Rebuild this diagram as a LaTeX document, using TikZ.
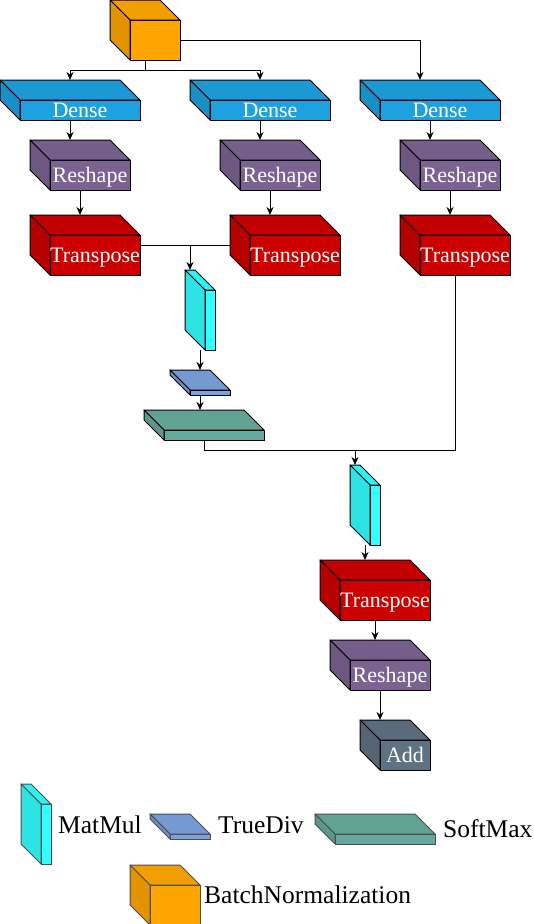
\documentclass[tikz,border=0pt]{standalone}
\usepackage{fontspec}
\setmainfont{Liberation Serif}
\usepackage{tikz}
\usetikzlibrary{arrows.meta, calc}
\usepackage{xcolor}

\definecolor{bnorange}{HTML}{FFA500}
\definecolor{denseblue}{HTML}{1DA1DF}
\definecolor{reshapepurple}{HTML}{7A6391}
\definecolor{transred}{HTML}{CC0000}
\definecolor{matcyan}{HTML}{33FFFF}
\definecolor{divblue}{HTML}{7BA2DC}
\definecolor{softgreen}{HTML}{66AA9D}
\definecolor{addgrey}{HTML}{5F7282}

% name, x, y of front top-left (px, y down), width, height, colour, text
\newcommand{\layerbox}[7]{%
  \node[front, fill=#6, minimum width=#4pt, minimum height=#5pt] (#1) at (#2,-#3) {};
  \filldraw[edge, fill=#6!95!black] (#1.north west) -- ++(-20,20) -- ++(#4,0) -- (#1.north east) -- cycle;
  \filldraw[edge, fill=#6!89!black] (#1.north west) -- ++(-20,20) -- ++(0,-#5) -- (#1.south west) -- cycle;
  \node[boxtext] (#1-txt) at (#1.center) {#7};
  \coordinate (#1-top) at ($(#1.north)+(-20,20)$);
  \coordinate (#1-bot) at ($(#1.south)+(-10,0)$);
}

\begin{document}
\begin{tikzpicture}[
  x=1pt, y=1pt,
  >={Stealth[length=8pt,width=7pt]},
  front/.style={draw=black, line width=1pt, anchor=north west, outer sep=0pt, inner sep=0pt},
  edge/.style={draw=black, line width=1pt, line join=round},
  boxtext/.style={text=white, font=\fontsize{22}{24}\selectfont, inner sep=0pt,
    text height=14pt, text depth=0pt},
  legendtext/.style={anchor=west, font=\fontsize{25.5}{28}\selectfont, inner sep=0pt},
  link/.style={line width=1pt},
  arrow/.style={link, ->}
]
\useasboundingbox (0,0) rectangle (534,-924);

% Input
\layerbox{bn}{130}{20}{50}{40}{bnorange}{}

% Three branches
\layerbox{d1}{20}{100}{120}{20}{denseblue}{Dense}
\layerbox{d2}{210}{100}{120}{20}{denseblue}{Dense}
\layerbox{d3}{380}{100}{120}{20}{denseblue}{Dense}
\layerbox{r1}{50}{160}{80}{30}{reshapepurple}{Reshape}
\layerbox{r2}{240}{160}{80}{30}{reshapepurple}{Reshape}
\layerbox{r3}{420}{160}{80}{30}{reshapepurple}{Reshape}
\layerbox{t1}{50}{235}{90}{40}{transred}{Transpose}
\layerbox{t2}{250}{235}{90}{40}{transred}{Transpose}
\layerbox{t3}{420}{235}{90}{40}{transred}{Transpose}

% Attention scores
\layerbox{mm1}{205}{290}{10}{60}{matcyan}{}
\layerbox{td1}{190}{390}{40}{5}{divblue}{}
\layerbox{sm1}{164}{430}{100}{10}{softgreen}{}

% Output
\layerbox{mm2}{370}{485}{10}{60}{matcyan}{}
\layerbox{t4}{340}{580}{90}{40}{transred}{Transpose}
\layerbox{r4}{350}{660}{80}{30}{reshapepurple}{Reshape}
\layerbox{add}{380}{740}{50}{30}{addgrey}{Add}

% Connectors
\draw[arrow] (bn-bot) -- ++(0,-10) -| (d1-bot |- d1-top);
\draw[arrow] (bn-bot) -- ++(0,-10) -| (d2-bot |- d2-top);
\draw[arrow] (bn.east) -| (d3-top);
\draw[arrow] (d1-bot) -- (d1-bot |- r1-top);
\draw[arrow] (d2-bot) -- (d2-bot |- r2-top);
\draw[arrow] (d3-bot) -- (d3-bot |- r3-top);
\draw[arrow] (r1-bot) -- (r1-bot |- t1-top);
\draw[arrow] (r2-bot) -- (r2-bot |- t2-top);
\draw[arrow] (r3-bot) -- (r3-bot |- t3-top);
\draw[link] ($(t1.north east)+(0,-10)$) coordinate (tjoin) -- ($(t2.north west)+(-20,-10)$);
\draw[arrow] (tjoin -| mm1-top) -- (mm1-top);
\draw[arrow] (mm1-bot) -- (mm1-bot |- td1-top);
\draw[arrow] (td1-bot) -- (td1-bot |- sm1-top);
\draw[link] (sm1-bot) -- ++(0,-10) coordinate (smjoin) -| (t3-bot);
\draw[arrow] (smjoin -| mm2-top) -- (mm2-top);
\draw[arrow] (mm2-bot) -- (mm2-bot |- t4-top);
\draw[arrow] (t4-bot) -- (t4-bot |- r4-top);
\draw[arrow] (r4-bot) -- (r4-bot |- add-top);

% Legend
\begin{scope}[front/.append style={draw=black!70}, edge/.append style={draw=black!70}]
\layerbox{mm0}{41}{804}{10}{60}{matcyan}{}
\layerbox{td0}{170}{834}{40}{5}{divblue}{}
\layerbox{sm0}{335}{834}{100}{10}{softgreen}{}
\layerbox{bn0}{150}{885}{50}{40}{bnorange}{}
\end{scope}
\node[legendtext] (mmlab) at (58,-825) {MatMul};
\node[legendtext] (tdlab) at (218,-825) {TrueDiv};
\node[legendtext] (smlab) at (443,-829) {SoftMax};
\node[legendtext] (bnlab) at (204,-895) {BatchNormalization};

\end{tikzpicture}
\end{document}
